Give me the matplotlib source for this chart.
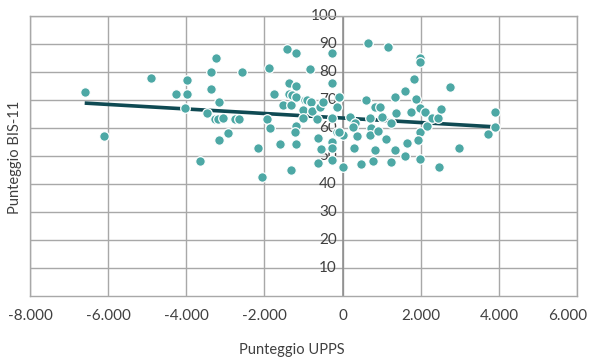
import matplotlib
matplotlib.use("Agg")
import matplotlib.pyplot as plt
import matplotlib.transforms as mtransforms
import numpy as np

plt.rcParams['font.family'] = ['Lato', 'DejaVu Sans']

# UPPS score (x) and BIS-11 score (y) per participant
upps = [
    -6.60, -6.11, -4.91, -4.27, -3.99, -3.99, -4.04, -3.66, -3.48, -3.25,
    -3.38, -2.58, -3.38, -3.17, -3.27, -3.20, -3.07, -2.76, -2.66, -2.94,
    -3.17, -2.17, -2.07, -1.94, -1.87, -1.89, -1.76, -1.53, -1.33, -1.38,
    -1.36, -1.61, -1.43, -1.18, -1.33, -1.18, -1.18, -1.23, -0.84, -1.18,
    -1.30, -1.18, -0.97, -0.90, -0.82, -1.02, -0.77, -0.59, -0.51, -0.26,
    -0.26, -0.08, -0.15, -0.28, -0.66, -1.02, -0.64, -0.54, -0.15, -0.26,
    -0.26, -0.26, -0.64, 0.00, 0.00, -0.08, 0.18, 0.33, 0.36, 0.26,
    0.28, 0.46, 0.59, 0.66, 1.15, 0.69, 0.74, 0.69, 0.84, 0.77,
    0.82, 0.97, 1.00, 0.90, 1.12, 1.25, 1.23, 1.33, 1.33, 1.38,
    1.59, 1.66, 1.61, 1.74, 1.82, 1.87, 1.97, 1.97, 1.97, 1.97,
    1.94, 1.97, 2.12, 2.15, 2.28, 2.43, 2.51, 2.46, 2.76, 2.97,
    3.71, 3.91, 3.91,
]
bis11 = [
    72.9, 57.1, 77.9, 72.1, 77.1, 72.1, 67.1, 48.2, 65.4, 85.0,
    80.0, 80.0, 73.9, 69.3, 63.2, 63.2, 63.6, 63.2, 63.2, 58.2,
    55.7, 52.9, 42.5, 63.2, 60.0, 81.4, 72.1, 68.2, 68.2, 76.1,
    72.1, 54.3, 88.2, 86.8, 45.0, 54.3, 60.7, 58.6, 81.1, 75.0,
    71.8, 71.1, 70.0, 70.0, 69.3, 66.4, 66.1, 67.5, 69.3, 86.8,
    76.1, 71.1, 67.5, 63.6, 63.2, 63.6, 56.4, 52.5, 58.6, 55.0,
    52.9, 48.6, 47.5, 46.1, 57.5, 58.6, 63.9, 61.8, 57.1, 60.4,
    52.9, 47.1, 70.0, 90.4, 88.9, 63.6, 60.0, 57.5, 52.1, 48.2,
    67.5, 67.5, 63.9, 58.9, 56.1, 61.8, 47.9, 52.1, 71.1, 65.4,
    50.0, 54.6, 73.2, 65.7, 77.5, 70.4, 85.0, 83.6, 67.1, 58.6,
    55.7, 48.9, 65.7, 60.7, 63.6, 63.6, 66.8, 46.1, 74.6, 52.9,
    57.9, 65.7, 60.4,
]

# Linear trend line endpoints
trend_x = [-6.60, 3.91]
trend_y = [68.9, 60.4]

x_ticks = [-8, -6, -4, -2, 0, 2, 4, 6]
x_tick_labels = ["-8.000", "-6.000", "-4.000", "-2.000", "0", "2.000", "4.000", "6.000"]
y_ticks = [10, 20, 30, 40, 50, 60, 70, 80, 90, 100]

point_color = "#4DA8A5"
line_color = "#0F4A53"
grid_color = "#A8A8A8"
text_color = "#404040"

fig = plt.figure(figsize=(5.92, 3.58), dpi=100)
ax = fig.add_axes([30 / 592, 1 - 296 / 358, 547 / 592, 280 / 358])

ax.set_xlim(-8, 6)
ax.set_ylim(0, 100)

# grid
for v in x_ticks:
    ax.axvline(v, color=grid_color, lw=1.0, zorder=0.5)
for v in y_ticks:
    ax.axhline(v, color=grid_color, lw=1.0, zorder=0.5)
ax.axvline(0, color="#8C8C8C", lw=1.1, zorder=0.6)

for s in ax.spines.values():
    s.set_color(grid_color)
    s.set_linewidth(1.0)

ax.set_xticks(x_ticks)
ax.set_xticklabels(x_tick_labels, fontsize=11, color=text_color)
ax.set_yticks([])
ax.tick_params(axis='x', length=0, pad=9)

# keep the last x label inside the figure
last = ax.get_xticklabels()[-1]
last.set_transform(last.get_transform() +
                   mtransforms.ScaledTranslation(-9 / 100, 0, fig.dpi_scale_trans))

# y labels sit on the vertical axis at x = 0, underneath the points
for v in y_ticks:
    ax.annotate(str(v), xy=(0, v), xytext=(-4, 0), textcoords='offset points',
                ha='right', va='center', fontsize=11, color=text_color,
                zorder=1, annotation_clip=False)

ax.plot(trend_x, trend_y, color=line_color, lw=2.6, solid_capstyle='butt', zorder=2)
ax.scatter(upps, bis11, s=48, color=point_color, edgecolors='white',
           linewidths=0.9, zorder=3, clip_on=False)

fig.text(292 / 592, 1 - 350 / 358, "Punteggio UPPS", ha='center', va='center',
         fontsize=10.5, color=text_color)
fig.text(15 / 592, 1 - 157 / 358, "Punteggio BIS-11", ha='center', va='center',
         rotation=90, fontsize=10.5, color=text_color)

fig.savefig("out.png", dpi=100)
